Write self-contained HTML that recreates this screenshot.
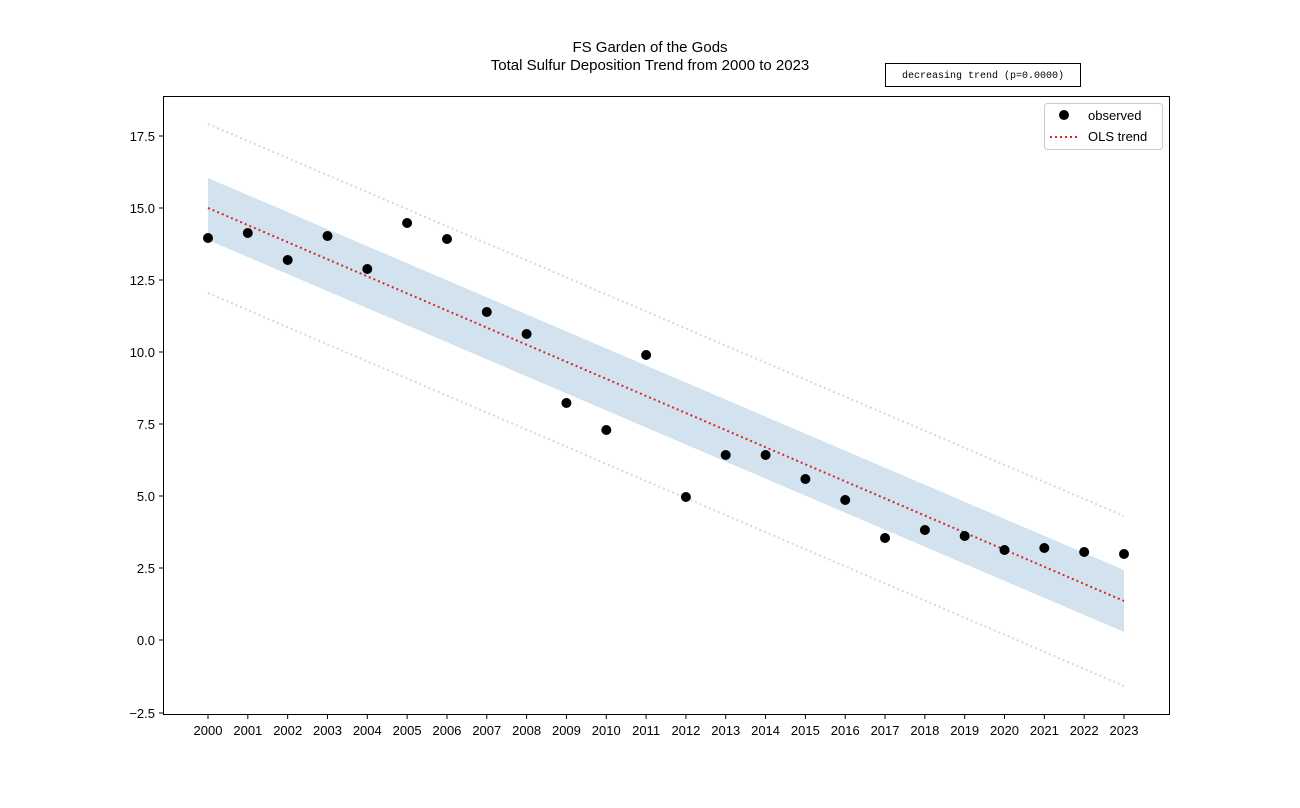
<!DOCTYPE html>
<html><head><meta charset="utf-8"><style>body{margin:0;background:#fff}</style></head><body>
<svg width="1300" height="803" xmlns="http://www.w3.org/2000/svg" font-family="Liberation Sans, DejaVu Sans, sans-serif">
<rect width="1300" height="803" fill="#fff"/>
<text x="650" y="52" font-size="15" text-anchor="middle">FS Garden of the Gods</text>
<text x="650" y="70" font-size="15" text-anchor="middle">Total Sulfur Deposition Trend from 2000 to 2023</text>
<rect x="885.5" y="63.5" width="195" height="23" fill="#fff" stroke="#000"/>
<text x="983" y="78" font-size="10" font-family="Liberation Mono, monospace" text-anchor="middle">decreasing trend (p=0.0000)</text>
<polygon points="208,178 1124,570 1124,632 208,240" fill="#d2e3ef"/>
<line x1="208" y1="124" x2="1124" y2="516" stroke="#c9dcea" stroke-width="2" stroke-dasharray="2,3"/>
<line x1="208" y1="293" x2="1124" y2="686" stroke="#c9dcea" stroke-width="2" stroke-dasharray="2,3"/>
<line x1="208" y1="208" x2="1124" y2="601" stroke="#d62728" stroke-width="2" stroke-dasharray="2,3"/>
<g fill="#000">
<circle cx="208" cy="238" r="5"/><circle cx="247.8" cy="233" r="5"/><circle cx="287.7" cy="260" r="5"/><circle cx="327.5" cy="236" r="5"/><circle cx="367.3" cy="269" r="5"/><circle cx="407.1" cy="223" r="5"/><circle cx="447" cy="239" r="5"/><circle cx="486.8" cy="312" r="5"/><circle cx="526.6" cy="334" r="5"/><circle cx="566.4" cy="403" r="5"/><circle cx="606.3" cy="430" r="5"/><circle cx="646.1" cy="355" r="5"/><circle cx="685.9" cy="497" r="5"/><circle cx="725.7" cy="455" r="5"/><circle cx="765.6" cy="455" r="5"/><circle cx="805.4" cy="479" r="5"/><circle cx="845.2" cy="500" r="5"/><circle cx="885" cy="538" r="5"/><circle cx="924.9" cy="530" r="5"/><circle cx="964.7" cy="536" r="5"/><circle cx="1004.5" cy="550" r="5"/><circle cx="1044.3" cy="548" r="5"/><circle cx="1084.2" cy="552" r="5"/><circle cx="1124" cy="554" r="5"/>
</g>
<rect x="163.5" y="96.5" width="1006" height="618" fill="none" stroke="#000"/>
<g stroke="#000">
<line x1="159" y1="136" x2="163" y2="136"/><line x1="159" y1="208" x2="163" y2="208"/><line x1="159" y1="280" x2="163" y2="280"/><line x1="159" y1="352" x2="163" y2="352"/><line x1="159" y1="424" x2="163" y2="424"/><line x1="159" y1="496" x2="163" y2="496"/><line x1="159" y1="568" x2="163" y2="568"/><line x1="159" y1="640" x2="163" y2="640"/><line x1="159" y1="713" x2="163" y2="713"/>
</g>
<g font-size="13" text-anchor="end">
<text x="155" y="141">17.5</text><text x="155" y="213">15.0</text><text x="155" y="285">12.5</text><text x="155" y="357">10.0</text><text x="155" y="429">7.5</text><text x="155" y="501">5.0</text><text x="155" y="573">2.5</text><text x="155" y="645">0.0</text><text x="155" y="718">−2.5</text>
</g>
<g font-size="13" text-anchor="middle" id="xt"></g>
<g stroke="#000" id="xtl"></g>
<rect x="1044.5" y="103.5" width="118" height="46" rx="3" fill="#fff" stroke="#ccc"/>
<circle cx="1064" cy="115" r="5"/>
<text x="1088" y="120" font-size="13">observed</text>
<line x1="1050" y1="137" x2="1078" y2="137" stroke="#d62728" stroke-width="2" stroke-dasharray="2,3"/>
<text x="1088" y="141" font-size="13">OLS trend</text>
<script>
var g=document.getElementById('xt'),l=document.getElementById('xtl'),ns='http://www.w3.org/2000/svg';
for(var i=0;i<24;i++){var x=208+i*916/23;var t=document.createElementNS(ns,'text');t.setAttribute('x',x);t.setAttribute('y',735);t.textContent=2000+i;g.appendChild(t);
var ln=document.createElementNS(ns,'line');ln.setAttribute('x1',x);ln.setAttribute('x2',x);ln.setAttribute('y1',715);ln.setAttribute('y2',719);l.appendChild(ln);}
</script>
</svg>
</body></html>
